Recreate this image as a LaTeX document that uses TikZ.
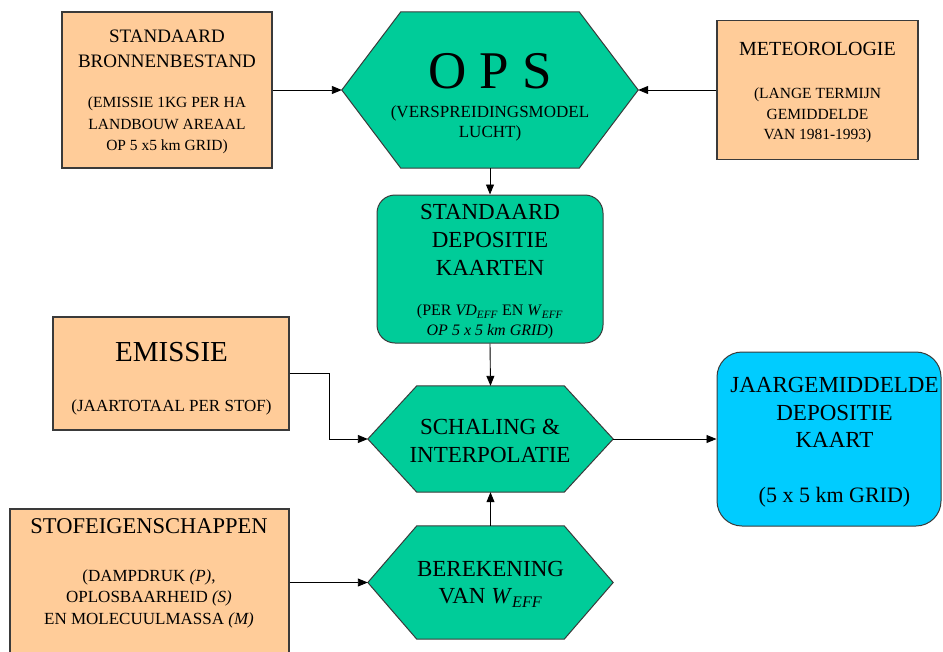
\documentclass[tikz,border=0pt]{standalone}
\usepackage{fontspec}
\setmainfont{Liberation Serif}
\usetikzlibrary{arrows.meta,backgrounds}

\definecolor{peach}{HTML}{FFCC99}
\definecolor{sea}{HTML}{00CC99}
\definecolor{sky}{HTML}{00CCFF}
\definecolor{edge}{HTML}{3A3A3A}

\tikzset{
  inbox/.style={draw=edge, line width=1.2pt, fill=peach, inner sep=0pt},
  roundbox/.style={draw=edge, line width=1pt, inner sep=0pt},
  hexframe/.style={draw=none, inner sep=0pt},
  hexline/.style={draw=edge, line width=1pt, fill=sea},
  txt/.style={inner sep=0pt, align=center, text=black},
  arr/.style={draw=black, line width=0.9pt, -{Triangle[length=10pt,width=8pt]}},
}

% hexagon drawn around a named frame node, with the given horizontal inset
\newcommand\hexpath[2]{%
  \filldraw[hexline] (#1.west) -- ([xshift=#2]#1.north west) -- ([xshift=-#2]#1.north east)
    -- (#1.east) -- ([xshift=-#2]#1.south east) -- ([xshift=#2]#1.south west) -- cycle;}

\begin{document}
\begin{tikzpicture}[x=1pt,y=-1pt]
\useasboundingbox (0,0) rectangle (943,651);
\clip (0,0) rectangle (943,651);

% input boxes
\node[inbox, minimum width=210pt, minimum height=156pt] (src) at (167,90) {};
\node[inbox, minimum width=201pt, minimum height=139pt] (met) at (817.5,90) {};
\node[inbox, minimum width=236pt, minimum height=113pt] (emi) at (171,373.5) {};
\node[inbox, minimum width=279pt, minimum height=163pt] (stof) at (149.5,590.5) {};

% process hexagons
\node[hexframe, minimum width=296pt, minimum height=156pt] (ops) at (490,90) {};
\node[hexframe, minimum width=245pt, minimum height=106pt] (sch) at (490.5,439) {};
\node[hexframe, minimum width=245pt, minimum height=113pt] (ber) at (490.5,582.5) {};
\begin{scope}[on background layer]
  \hexpath{ops}{59pt}
  \hexpath{sch}{49pt}
  \hexpath{ber}{49pt}
\end{scope}

% result boxes
\node[roundbox, fill=sea, rounded corners=18pt, minimum width=226pt, minimum height=148pt] (std) at (490,269) {};
\node[roundbox, fill=sky, rounded corners=25pt, minimum width=224pt, minimum height=174pt] (jaar) at (829,439) {};

% texts
\node[txt, font=\fontsize{19}{25}\selectfont] (srcT) at (167,48.5) {STANDAARD\\BRONNENBESTAND};
\node[txt, font=\fontsize{15.5}{21.5}\selectfont] (srcS) at (167,125.5) {(EMISSIE 1KG PER HA\\LANDBOUW AREAAL\\OP 5 x5 km GRID)};

\node[txt, font=\fontsize{53}{60}\selectfont] (opsT) at (490,71) {O P S};
\node[txt, font=\fontsize{17}{20}\selectfont] (opsS) at (490,123) {(VERSPREIDINGSMODEL\\LUCHT)};

\node[txt, font=\fontsize{20}{24}\selectfont] (metT) at (817.5,49) {METEOROLOGIE};
\node[txt, font=\fontsize{15.5}{20.5}\selectfont] (metS) at (817.5,115.5) {(LANGE TERMIJN\\GEMIDDELDE\\VAN 1981-1993)};

\node[txt, font=\fontsize{23}{28}\selectfont] (stdT) at (490,240) {STANDAARD\\DEPOSITIE\\KAARTEN};
\node[txt, font=\fontsize{16}{20}\selectfont] (stdS) at (490,322) {(PER \textit{VD}\textsubscript{\textit{EFF}} EN \textit{W}\textsubscript{\textit{EFF}}\\\textit{OP 5 x 5 km GRID})};

\node[txt, font=\fontsize{29}{34}\selectfont] (emiT) at (171.5,352) {EMISSIE};
\node[txt, font=\fontsize{17}{21}\selectfont] (emiS) at (171.5,407) {(JAARTOTAAL PER STOF)};

\node[txt, font=\fontsize{23}{28}\selectfont] (schT) at (490,441) {SCHALING \&\\INTERPOLATIE};

\node[txt, font=\fontsize{23}{27.5}\selectfont] (jaarT) at (834.5,412.5) {JAARGEMIDDELDE\\DEPOSITIE\\KAART};
\node[txt, font=\fontsize{22}{26}\selectfont] (jaarS) at (834.5,497) {(5 x 5 km GRID)};

\node[txt, font=\fontsize{23}{27}\selectfont] (berT) at (490.5,584.5) {BEREKENING\\VAN \textit{W}\textsubscript{\textit{EFF}}};

\node[txt, font=\fontsize{22.5}{26}\selectfont] (stofT) at (149,526) {STOFEIGENSCHAPPEN};
\node[txt, font=\fontsize{17}{21.5}\selectfont] (stofS) at (149,598.5) {(DAMPDRUK \textit{(P)},\\OPLOSBAARHEID \textit{(S)}\\EN MOLECUULMASSA \textit{(M)}};

% connectors
\coordinate (emiK) at (329,0);
\draw[arr] (src.east) -- (ops.west);
\draw[arr] (met.west) -- (ops.east);
\draw[arr] (ops.south) -- (std.north);
\draw[arr] (std.south) -- (sch.north);
\draw[arr] (emi.east) -| (emiK |- sch.west) -- (sch.west);
\draw[arr] (sch.east) -- (jaar.west);
\draw[arr] (ber.north) -- (sch.south);
\draw[arr] (stof.east |- ber.west) -- (ber.west);
\end{tikzpicture}
\end{document}
